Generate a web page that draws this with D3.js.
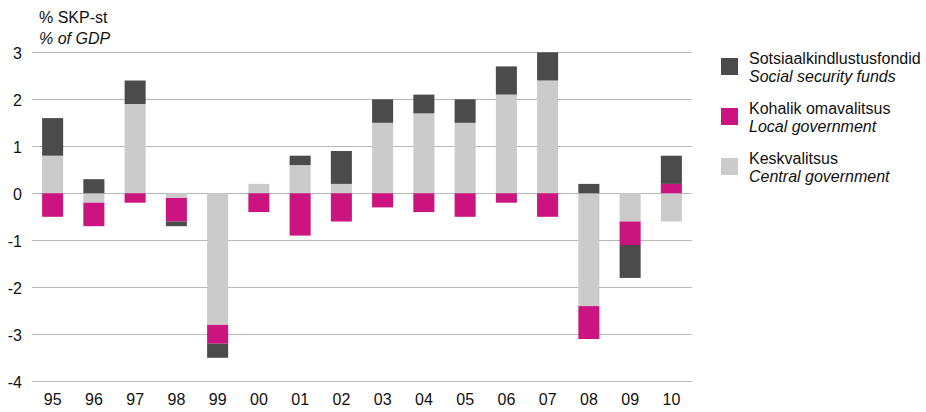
<!DOCTYPE html>
<html><head><meta charset="utf-8">
<script src="https://cdn.jsdelivr.net/npm/d3@7"></script>
<style>body{margin:0;background:#fff}svg{display:block;font-family:"Liberation Sans",Arial,sans-serif}</style>
</head><body><svg id="c" width="926" height="412"></svg>
<script>
const categories = ["95","96","97","98","99","00","01","02","03","04","05","06","07","08","09","10"];
const central = [0.8,-0.2,1.9,-0.1,-2.8,0.2,0.6,0.2,1.5,1.7,1.5,2.1,2.4,-2.4,-0.6,-0.6];
const local   = [-0.5,-0.5,-0.2,-0.5,-0.4,-0.4,-0.9,-0.6,-0.3,-0.4,-0.5,-0.2,-0.5,-0.7,-0.5,0.2];
const social  = [0.8,0.3,0.5,-0.1,-0.3,0,0.2,0.7,0.5,0.4,0.5,0.6,0.6,0.2,-0.7,0.6];
const yTicks = [3,2,1,0,-1,-2,-3,-4];
const seriesNames = [
  {key:"central", et:"Keskvalitsus", en:"Central government"},
  {key:"local", et:"Kohalik omavalitsus", en:"Local government"},
  {key:"social", et:"Sotsiaalkindlustusfondid", en:"Social security funds"}
];
const colors = {central:"#cbcbcb", local:"#cc1480", social:"#4b4b4b"};

const svg = d3.select("#c");
const x = d3.scaleBand().domain(categories).range([32,692]).paddingInner(0.49).paddingOuter(0.245);
const y = d3.scaleLinear().domain([-4,3]).range([381.3,52.3]);

// gridlines
svg.append("g").selectAll("line").data(yTicks).join("line")
  .attr("x1",32).attr("x2",692).attr("y1",d=>Math.round(y(d))+0.5).attr("y2",d=>Math.round(y(d))+0.5)
  .attr("stroke","#b8b8b8").attr("stroke-width",1.2);

// y axis labels
const yAxis = d3.axisLeft(y).tickValues(yTicks).tickSize(0).tickPadding(0).tickFormat(d3.format("d"));
const ya = svg.append("g").attr("transform","translate(22,0)").call(yAxis);
ya.select(".domain").remove();
ya.selectAll("text").attr("font-size",16).attr("fill","#111").attr("font-family","Liberation Sans, Arial, sans-serif").attr("dy","0.36em").text(d=>d<0?"-"+Math.abs(d):d);

// x axis labels
const xAxis = d3.axisBottom(x).tickSize(0).tickPadding(0);
const xa = svg.append("g").attr("transform","translate(0,394)").call(xAxis);
xa.select(".domain").remove();
xa.selectAll("text").attr("font-size",16).attr("fill","#111").attr("font-family","Liberation Sans, Arial, sans-serif").attr("dy","0.71em");

// stacked bars
const data = categories.map((c,i)=>({cat:c, central:central[i], local:local[i], social:social[i]}));
const order = ["central","local","social"];
const segs = [];
data.forEach(d=>{
  let pos=0, neg=0;
  order.forEach(k=>{
    const v=d[k];
    if(v>=0){segs.push({cat:d.cat,key:k,y0:pos,y1:pos+v}); pos+=v;}
    else {segs.push({cat:d.cat,key:k,y0:neg+v,y1:neg}); neg+=v;}
  });
});
svg.append("g").selectAll("rect").data(segs.filter(s=>s.y1-s.y0>0)).join("rect")
  .attr("x",d=>x(d.cat)).attr("width",x.bandwidth())
  .attr("y",d=>y(d.y1)).attr("height",d=>y(d.y0)-y(d.y1))
  .attr("fill",d=>colors[d.key]);

// axis title
svg.append("text").attr("x",39).attr("y",23).attr("font-size",16).attr("fill","#111").text("% SKP-st");
svg.append("text").attr("x",39).attr("y",43.5).attr("font-size",16).attr("font-style","italic").attr("fill","#111").text("% of GDP");

// legend
const legendItems = [seriesNames[2], seriesNames[1], seriesNames[0]];
const lg = svg.append("g");
legendItems.forEach((s,i)=>{
  const g = lg.append("g").attr("transform",`translate(721,${58+i*50})`);
  g.append("rect").attr("width",17).attr("height",17).attr("fill",colors[s.key]);
  g.append("text").attr("x",28).attr("y",6).attr("font-size",16).attr("fill","#111").text(s.et);
  g.append("text").attr("x",28).attr("y",23.5).attr("font-size",16).attr("font-style","italic").attr("fill","#111").text(s.en);
});
</script></body></html>
